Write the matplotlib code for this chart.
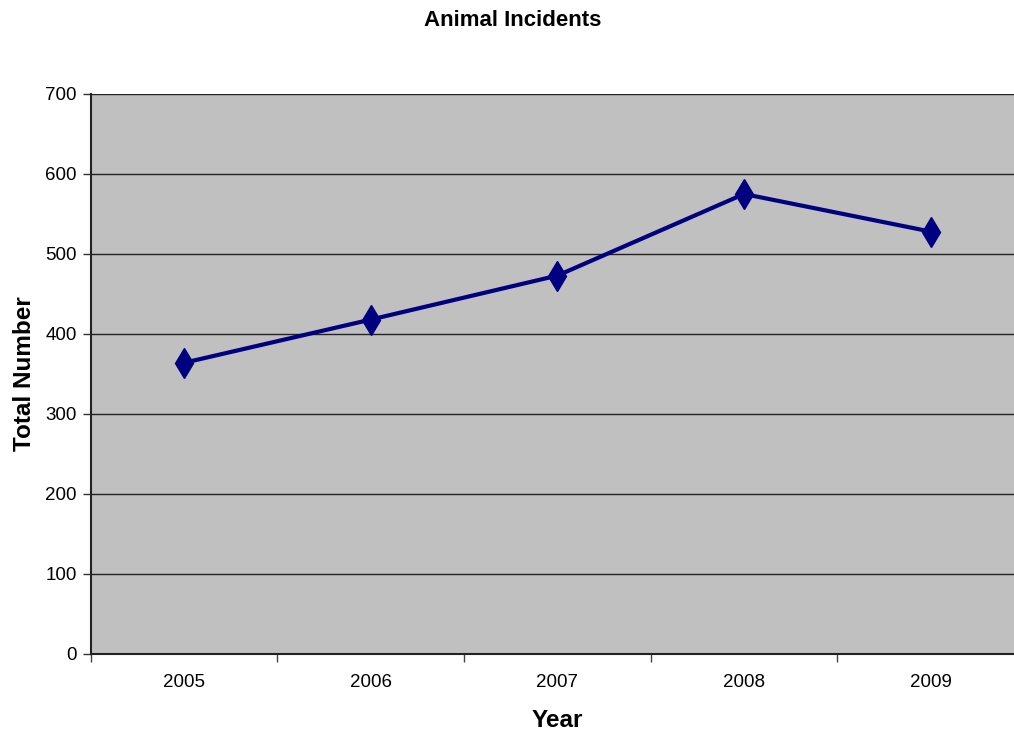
import matplotlib
matplotlib.use('Agg')
import matplotlib.pyplot as plt
import numpy as np

# Data
years = ['2005', '2006', '2007', '2008', '2009']
incidents = [364, 418, 473, 575, 528]
y_ticks = [0, 100, 200, 300, 400, 500, 600, 700]

plt.rcParams['font.family'] = ['Liberation Sans', 'DejaVu Sans']

fig = plt.figure(figsize=(10.14, 7.34), dpi=100)
W, H = 1014, 734
left, right, top, bottom = 90.7, 1024.0, 94.0, 654.0
ax = fig.add_axes([left / W, (H - bottom) / H, (right - left) / W, (bottom - top) / H])
ax.set_facecolor('#C0C0C0')

x = np.arange(len(years))
ax.plot(x, incidents, color='#000080', linewidth=3, marker='d',
        markersize=15, markerfacecolor='#000080', markeredgecolor='#000080', zorder=3)

ax.set_xlim(-0.5, len(years) - 0.5)
ax.set_ylim(0, 700)
ax.set_yticks(y_ticks)
ax.set_yticklabels([str(v) for v in y_ticks], fontsize=13.5)
ax.yaxis.grid(True, color='#222222', linewidth=1)
ax.set_axisbelow(True)

ax.set_xticks(x)
ax.set_xticklabels(years, fontsize=13.5)
ax.set_xticks(np.arange(-0.5, len(years), 1.0), minor=True)
ax.tick_params(axis='x', which='major', length=0, pad=14.5)
ax.tick_params(axis='x', which='minor', length=6, width=1, color='#444444', direction='out')
ax.tick_params(axis='y', length=6, width=1, color='#333333', direction='out', pad=4)

for s in ['top', 'right']:
    ax.spines[s].set_visible(False)
for s in ['left', 'bottom']:
    ax.spines[s].set_color('#222222')
    ax.spines[s].set_linewidth(1.5)

ax.set_xlabel('Year', fontsize=17.5, fontweight='bold', labelpad=13)
ax.set_ylabel('Total Number', fontsize=17.5, fontweight='bold', labelpad=7)
fig.text(513 / W, 1 - 20 / H, 'Animal Incidents', fontsize=16, fontweight='bold',
         ha='center', va='center')

fig.savefig('out.png', dpi=100)
